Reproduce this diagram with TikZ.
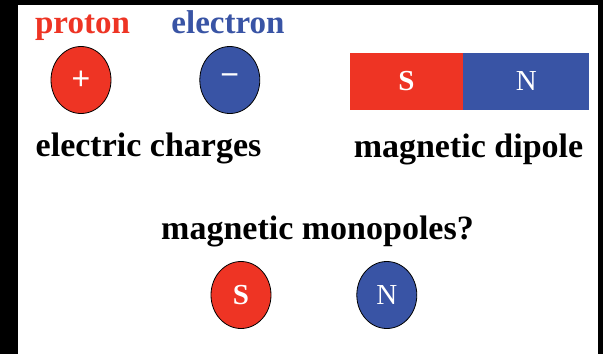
\documentclass[tikz,border=0pt]{standalone}
\usepackage{fontspec}
\setmainfont{Liberation Serif}
\newfontfamily\signfont{Liberation Sans}
\usetikzlibrary{positioning, shapes.geometric}

\definecolor{polered}{RGB}{238,52,36}
\definecolor{poleblue}{RGB}{57,84,165}

\begin{document}
\begin{tikzpicture}[
    x=1pt, y=-1pt,
    node distance=0pt and 88pt,
    title/.style={anchor=base, inner sep=0pt, font=\fontsize{33}{38}\selectfont\bfseries},
    caption/.style={anchor=base, inner sep=0pt, font=\fontsize{34}{40}\selectfont\bfseries},
    ball/.style={draw=black, line width=0.8pt, ellipse, minimum width=60pt, minimum height=67pt, inner sep=0pt, text=white},
    bar/.style={rectangle, minimum height=57pt, inner sep=0pt, text=white},
    sign/.style={font=\signfont\fontsize{32}{34}\selectfont},
    letter/.style={font=\fontsize{29}{31}\selectfont},
    boldletter/.style={font=\fontsize{29}{31}\selectfont\bfseries}
]

% Frame
\useasboundingbox (0,0) rectangle (603,354);
\fill[black] (0,0) rectangle (603,354);
\fill[white] (18,5) rectangle (598,354);

% Electric charges
\node[ball, fill=polered, sign] (proton) at (81,80) {+};
\node[ball, fill=poleblue, sign, right=of proton] (electron) {\char"2212};
\node[title, text=polered] (protonlbl) at (82.5,33) {proton};
\node[title, text=poleblue] (electronlbl) at (228,33) {electron};
\node[caption] (charges) at (148.5,156) {electric charges};

% Magnetic dipole
\node[bar, fill=polered, minimum width=113pt, boldletter] (south) at (406.5,81.5) {S};
\node[bar, fill=poleblue, minimum width=126pt, letter, right=0pt of south] (north) {N};
\node[caption] (dipole) at (468.5,157) {magnetic dipole};

% Magnetic monopoles
\node[caption] (monopoles) at (317.5,239) {magnetic monopoles?};
\node[ball, fill=polered, boldletter] (monoS) at (241,295) {S};
\node[ball, fill=poleblue, letter, right=85pt of monoS] (monoN) {N};

\end{tikzpicture}
\end{document}
